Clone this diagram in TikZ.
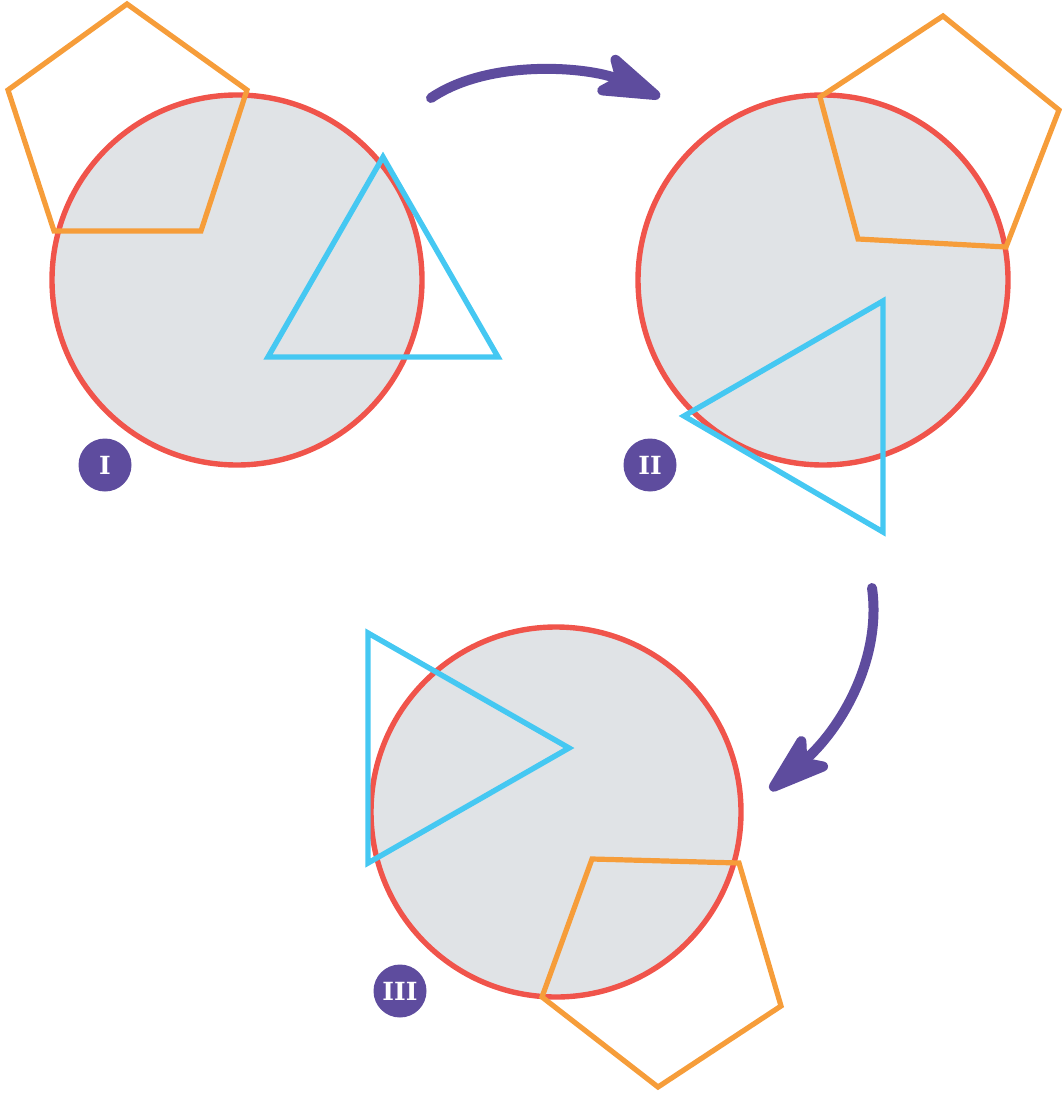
\documentclass[tikz,border=0pt]{standalone}
\usepackage{fontspec}
\newfontfamily\badgefont{DejaVu Serif}
\usetikzlibrary{arrows.meta}

\definecolor{discgrey}{HTML}{E0E3E6}
\definecolor{rimred}{HTML}{F0544B}
\definecolor{pentorange}{HTML}{F69D3A}
\definecolor{tricyan}{HTML}{45C8F2}
\definecolor{turnpurple}{HTML}{5E4C9E}

\tikzset{
  disc/.style={circle,draw=rimred,fill=discgrey,line width=2.7pt,minimum size=185pt,inner sep=0pt},
  pent/.style={draw=pentorange,line width=2.6pt},
  tri/.style={draw=tricyan,line width=2.7pt},
  badge/.style={circle,fill=turnpurple,text=white,minimum size=26.5pt,inner sep=0pt,font=\badgefont\bfseries\fontsize{12.5}{12.5}\selectfont},
  turnarrow/.style={draw=turnpurple,line width=5pt,line cap=round,-{Stealth[length=40pt,width=26pt,inset=10pt,round]}}
}

\begin{document}
\begin{tikzpicture}[x=0.5pt,y=-0.5pt]
  \useasboundingbox (0,0) rectangle (1061,1096);

  %I
  \node[disc] (c1) at (237,280) {};
  \draw[pent] (127,4) -- (247,90) -- (201,231) -- (54,231) -- (8,90) -- cycle;
  \draw[tri] (383,157) -- (498,357) -- (268,357) -- cycle;
  \node[badge] (b1) at (105,465) {I};

  %II
  \node[disc] (c2) at (823,280) {};
  \draw[pent] (820,97) -- (943,16) -- (1059,110) -- (1006,247) -- (858,239) -- cycle;
  \draw[tri] (883,301) -- (883,532) -- (684,416) -- cycle;
  \node[badge] (b2) at (650,465) {II};

  %III
  \node[disc] (c3) at (556,812) {};
  \draw[tri] (368,633) -- (569,748) -- (368,863) -- cycle;
  \draw[pent] (592,859) -- (739,863) -- (781,1006) -- (658,1087) -- (542,997) -- cycle;
  \node[badge] (b3) at (400,991) {III};

  %I>II
  \coordinate (a1s) at (431,98);
  \coordinate (a1e) at (660,97);
  \draw[turnarrow] (a1s) .. controls (490,58) and (590,67) .. (a1e);

  %II>III
  \coordinate (a2s) at (872,588);
  \coordinate (a2e) at (770,790);
  \draw[turnarrow] (a2s) .. controls (882,660) and (840,730) .. (a2e);
\end{tikzpicture}
\end{document}
